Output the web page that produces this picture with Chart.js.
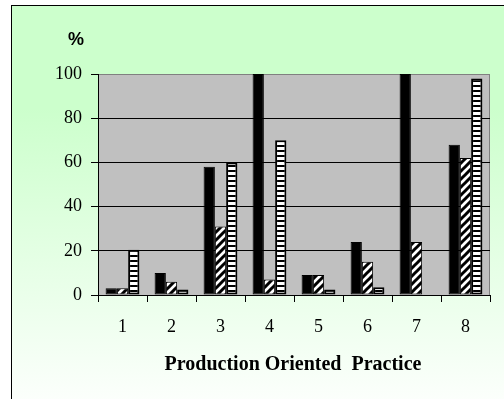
<!DOCTYPE html>
<html>
<head>
<meta charset="utf-8">
<script src="https://cdn.jsdelivr.net/npm/chart.js@4"></script>
<style>
  html, body { margin: 0; padding: 0; background: #ffffff; }
  #wrap { width: 504px; height: 399px; position: relative; }
</style>
</head>
<body>
<div id="wrap"><canvas id="c" width="504" height="399"></canvas></div>
<script>
// ---- data ----
const categories = ['1', '2', '3', '4', '5', '6', '7', '8'];
const solidSeries = [3, 10, 58, 100, 9, 24, 100, 68];
const diagonalSeries = [3, 6, 31, 7, 9, 15, 24, 62];
const stripedSeries = [20.5, 2.5, 60, 70, 2.5, 3.5, 0, 98];
const yTicks = [0, 20, 40, 60, 80, 100];
const yAxisLabel = '%';
const xAxisLabel = 'Production Oriented  Practice';

// ---- patterns ----
function diagPattern() {
  const c = document.createElement('canvas');
  c.width = 8; c.height = 8;
  const g = c.getContext('2d');
  g.fillStyle = '#fff'; g.fillRect(0, 0, 8, 8);
  g.strokeStyle = '#000'; g.lineWidth = 3;
  g.beginPath();
  g.moveTo(-2, 10); g.lineTo(10, -2);
  g.moveTo(-6, 6); g.lineTo(6, -6);
  g.moveTo(2, 14); g.lineTo(14, 2);
  g.stroke();
  return g.createPattern(c, 'repeat');
}
function stripePattern() {
  const c = document.createElement('canvas');
  c.width = 4; c.height = 5;
  const g = c.getContext('2d');
  g.fillStyle = '#000'; g.fillRect(0, 0, 4, 5);
  g.fillStyle = '#fff'; g.fillRect(0, 2, 4, 3);
  return g.createPattern(c, 'repeat');
}
const ctx0 = document.getElementById('c').getContext('2d');

const bgPlugin = {
  id: 'bg',
  beforeDraw(chart) {
    const ctx = chart.ctx, a = chart.chartArea;
    ctx.save();
    ctx.fillStyle = '#ffffff';
    ctx.fillRect(0, 0, chart.width, chart.height);
    const grd = ctx.createLinearGradient(0, 5, 0, 420);
    grd.addColorStop(0, '#ccffcc');
    grd.addColorStop(0.25, '#ccffcc');
    grd.addColorStop(1, '#ffffff');
    ctx.fillStyle = grd;
    ctx.fillRect(11, 5, chart.width, chart.height);
    ctx.strokeStyle = '#000';
    ctx.lineWidth = 1;
    ctx.strokeRect(11.5, 5.5, chart.width + 20, chart.height + 20);
    // plot area
    ctx.fillStyle = '#c0c0c0';
    ctx.fillRect(a.left, a.top, a.right - a.left, a.bottom - a.top);
    ctx.strokeStyle = '#808080';
    ctx.strokeRect(a.left + 0.5, a.top + 0.5, a.right - a.left - 1, a.bottom - a.top);
    ctx.restore();
  },
  afterDraw(chart) {
    const ctx = chart.ctx, a = chart.chartArea;
    ctx.save();
    ctx.fillStyle = '#000';
    ctx.textAlign = 'center';
    ctx.textBaseline = 'middle';
    ctx.font = 'bold 18px "Liberation Sans", Arial, sans-serif';
    ctx.fillText(yAxisLabel, 76, 40);
    ctx.font = 'bold 20px "Liberation Serif", "Times New Roman", serif';
    ctx.fillText(xAxisLabel, 293, 365);
    ctx.restore();
  }
};

new Chart(ctx0, {
  type: 'bar',
  data: {
    labels: categories,
    datasets: [
      { label: 'Series 1', data: solidSeries, backgroundColor: '#000', borderColor: '#000', borderWidth: 1 },
      { label: 'Series 2', data: diagonalSeries, backgroundColor: diagPattern(), borderColor: '#000', borderWidth: 1 },
      { label: 'Series 3', data: stripedSeries, backgroundColor: stripePattern(), borderColor: '#000', borderWidth: 2 }
    ]
  },
  options: {
    responsive: false,
    animation: false,
    events: [],
    layout: { padding: { top: 74, right: 14, left: 0, bottom: 0 } },
    datasets: { bar: { categoryPercentage: 0.69, barPercentage: 1.0, borderSkipped: false } },
    plugins: { legend: { display: false }, tooltip: { enabled: false }, title: { display: false } },
    scales: {
      x: {
        afterFit(s) { s.height = 104; },
        grid: { offset: true, drawOnChartArea: false, drawTicks: true, tickLength: 7, color: '#000', lineWidth: 1 },
        border: { display: true, color: '#000', width: 1 },
        ticks: { color: '#000', padding: 14, font: { family: '"Liberation Serif", "Times New Roman", serif', size: 18 } }
      },
      y: {
        min: 0, max: 100,
        afterFit(s) { s.width = 98; },
        afterBuildTicks(s) { s.ticks = yTicks.map(v => ({ value: v })); },
        grid: {
          color: (c) => (c.tick && c.tick.value === 100 ? '#808080' : '#000'),
          tickColor: '#000', tickLength: 7, lineWidth: 1
        },
        border: { display: true, color: '#000', width: 1 },
        ticks: { color: '#000', padding: 9, font: { family: '"Liberation Serif", "Times New Roman", serif', size: 18 } }
      }
    }
  },
  plugins: [bgPlugin]
});
</script>
</body>
</html>
